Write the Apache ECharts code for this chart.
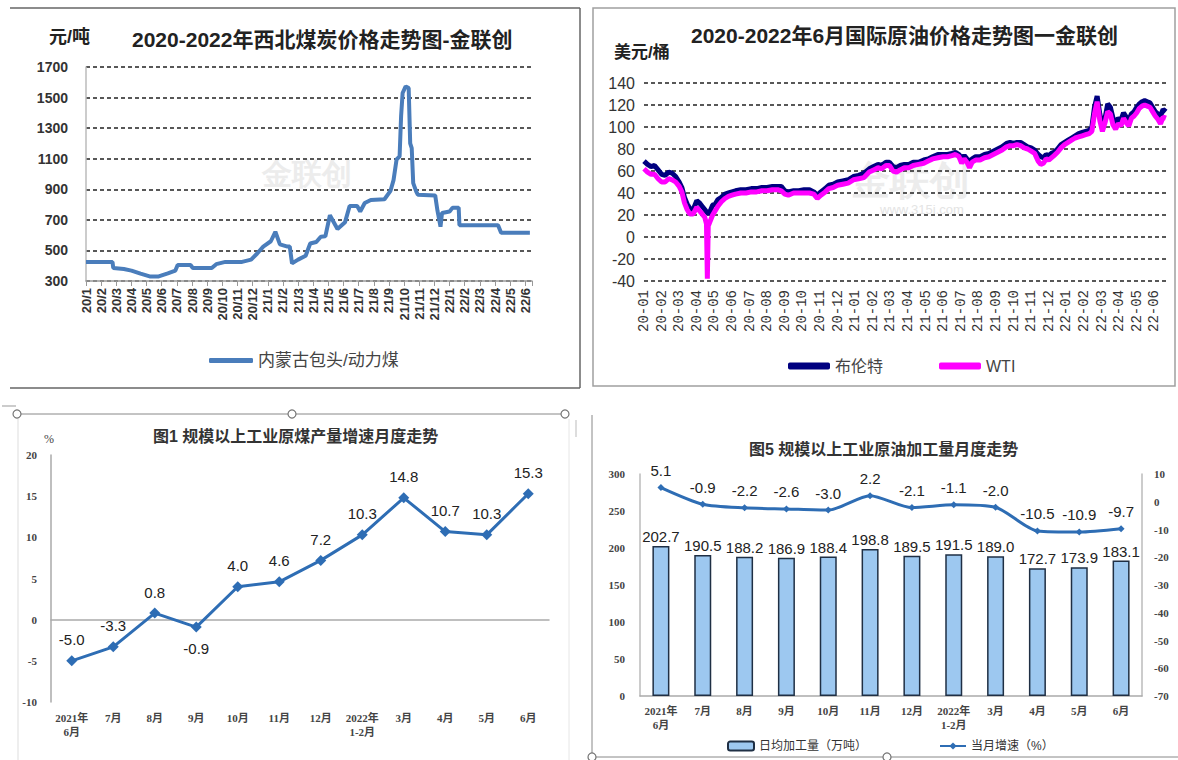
<!DOCTYPE html>
<html>
<head>
<meta charset="utf-8">
<script src="https://cdn.jsdelivr.net/npm/echarts/dist/echarts.min.js"></script>
<style>
  html, body { margin: 0; padding: 0; background: #fff; }
  #main { width: 1178px; height: 760px; }
</style>
</head>
<body>
<div id="main"></div>
<script>
// 西北煤炭价格（元/吨），横轴按月份序号（0 = 20/1）
const coalMonths = ['20/1','20/2','20/3','20/4','20/5','20/6','20/7','20/8','20/9','20/10','20/11','20/12',
  '21/1','21/2','21/3','21/4','21/5','21/6','21/7','21/8','21/9','21/10','21/11','21/12',
  '22/1','22/2','22/3','22/4','22/5','22/6'];
const coalT = [0,1.75,1.8,2.5,3.0,3.6,4.2,4.8,5.4,5.9,6.05,6.9,7.05,8.3,8.6,9.2,10.3,10.9,11.3,11.7,
  12.2,12.5,12.8,13.3,13.45,13.6,14.0,14.5,14.8,15.2,15.5,15.8,16.1,16.6,17.1,17.4,17.9,18.1,18.4,18.8,
  19.7,20.1,20.3,20.5,20.7,20.8,20.9,21.1,21.3,21.4,21.5,21.6,21.8,21.9,23.05,23.2,23.4,23.5,24.0,24.2,
  24.6,24.65,27.2,27.4,29.3];
const coalPrice = [425,425,385,378,368,348,330,330,350,368,405,405,385,385,410,425,425,440,480,525,
  560,622,540,525,525,415,440,465,545,555,590,592,730,640,685,790,790,755,810,830,
  835,890,960,1095,1115,1380,1530,1573,1562,1200,1170,940,885,865,860,760,655,745,755,780,
  780,665,665,615,615];

// 国际原油价格（美元/桶）
const oilMonths = ['20-01','20-02','20-03','20-04','20-05','20-06','20-07','20-08','20-09','20-10','20-11','20-12',
  '21-01','21-02','21-03','21-04','21-05','21-06','21-07','21-08','21-09','21-10','21-11','21-12',
  '22-01','22-02','22-03','22-04','22-05','22-06'];
const oilT = [0.0,0.2,0.4,0.6,0.8,1.0,1.2,1.4,1.6,1.8,
  2.0,2.15,2.3,2.45,2.6,2.8,3.0,3.15,3.3,3.45,
  3.55,3.6,3.65,3.75,3.9,4.05,4.2,4.4,4.6,4.8,
  5.0,5.2,5.5,5.8,6.1,6.4,6.7,7.0,7.3,7.6,
  7.8,8.0,8.2,8.5,8.8,9.1,9.4,9.65,9.85,10.05,
  10.3,10.5,10.75,11.0,11.3,11.6,11.9,12.2,12.5,12.8,
  13.05,13.3,13.5,13.75,13.95,14.15,14.35,14.55,14.8,15.05,
  15.3,15.6,15.9,16.15,16.4,16.7,17.0,17.25,17.5,17.7,
  17.9,18.05,18.2,18.35,18.5,18.65,18.85,19.1,19.35,19.6,
  19.85,20.1,20.35,20.6,20.8,21.0,21.2,21.4,21.6,21.8,
  22.0,22.2,22.4,22.55,22.7,22.85,23.0,23.15,23.3,23.5,
  23.7,23.9,24.1,24.3,24.5,24.7,24.9,25.1,25.3,25.45,
  25.6,25.75,25.9,26.05,26.2,26.35,26.5,26.65,26.8,26.95,
  27.1,27.25,27.4,27.55,27.7,27.85,28.0,28.15,28.3,28.45,
  28.6,28.75,28.9,29.05,29.2,29.35,29.5,29.66];
const brentPrice = [69,66,64,65,61,57,56,59,58,55,
  50,45,36,30,26,25,33,31,28,25,
  23,22,21,23,29,30,34,36,39,40,
  41,42,43,43,44,44,45,45,46,46,
  46,42,41,42,42,43,43,41,38,41,
  44,47,48,50,51,52,55,56,58,62,
  64,66,65,68,68,64,63,65,66,66,
  68,68,70,71,73,75,75,75,76,77,
  75,71,74,71,69,71,73,73,75,76,
  78,80,82,85,86,85,86,86,84,82,
  81,79,75,73,72,75,74,76,77,80,
  84,86,88,90,92,94,95,96,97,100,
  118,128,112,101,108,121,118,108,104,108,
  106,113,109,106,112,114,118,121,123,124,
  123,122,118,114,112,110,116,114];
const wtiPrice = [62,59,57,57,53,50,50,53,52,50,
  46,41,31,25,21,21,27,24,21,18,
  12,-38,10,14,20,24,28,32,35,37,
  38,39,40,40,41,41,42,42,43,43,
  42,39,38,40,40,40,40,39,35,38,
  41,44,45,47,48,49,52,53,54,59,
  61,63,62,65,65,60,59,61,63,63,
  65,66,67,69,71,72,73,73,74,75,
  73,67,71,68,63,68,70,70,72,73,
  75,77,79,82,83,83,84,83,81,80,
  78,76,69,66,67,71,70,72,74,77,
  81,84,86,88,90,91,92,93,94,96,
  112,123,106,96,104,114,112,102,98,103,
  101,108,104,101,108,110,113,117,119,120,
  119,118,114,110,107,103,109,108];

// 规模以上工业：月度
const monthCats = ['2021年\n6月','7月','8月','9月','10月','11月','12月','2022年\n1-2月','3月','4月','5月','6月'];
const coalGrowth = [-5.0,-3.3,0.8,-0.9,4.0,4.6,7.2,10.3,14.8,10.7,10.3,15.3];
const oilRun = [202.7,190.5,188.2,186.9,188.4,198.8,189.5,191.5,189.0,172.7,173.9,183.1];
const oilRunGrowth = [5.1,-0.9,-2.2,-2.6,-3.0,2.2,-2.1,-1.1,-2.0,-10.5,-10.9,-9.7];

const sans = "'Liberation Sans','Noto Sans CJK SC',sans-serif";
const serif = "'Liberation Serif','Noto Sans CJK SC',serif";
const dashed = { lineStyle: { type: [4, 3], color: '#222', width: 1.5 } };
const serifLabel = { fontFamily: serif, fontSize: 11, fontWeight: 'bold', color: '#444', lineHeight: 14 };

const chart = echarts.init(document.getElementById('main'), null, { renderer: 'svg' });
const option = {
  animation: false,
  textStyle: { fontFamily: sans },
  title: [
    { text: '2020-2022年西北煤炭价格走势图-金联创', left: 127, top: 24,
      textStyle: { fontSize: 21, fontWeight: 'bold', color: '#222' } },
    { text: '2020-2022年6月国际原油价格走势图一金联创', left: 686, top: 20,
      textStyle: { fontSize: 21, fontWeight: 'bold', color: '#222' } },
    { text: '图1 规模以上工业原煤产量增速月度走势', left: 148, top: 423,
      textStyle: { fontSize: 16, fontWeight: 'bold', color: '#333' } },
    { text: '图5 规模以上工业原油加工量月度走势', left: 744, top: 436,
      textStyle: { fontSize: 16, fontWeight: 'bold', color: '#333' } }
  ],
  legend: [
    { data: ['内蒙古包头/动力煤'], left: 204, top: 347, icon: 'roundRect', itemWidth: 44, itemHeight: 5,
      textStyle: { fontSize: 17, color: '#444' } },
    { data: ['布伦特', 'WTI'], left: 783, top: 353, icon: 'roundRect', itemWidth: 42, itemHeight: 7, itemGap: 56,
      textStyle: { fontSize: 16, color: '#444' } },
    { data: ['日均加工量（万吨）', '当月增速（%）'], left: 722, top: 735, itemWidth: 26, itemHeight: 9, itemGap: 72,
      textStyle: { fontSize: 12, color: '#333' } }
  ],
  grid: [
    { left: 86, top: 67, width: 446, height: 214 },
    { left: 644, top: 83, width: 523, height: 198 },
    { left: 51, top: 455, width: 498, height: 247 },
    { left: 640, top: 474, width: 502, height: 222 }
  ],
  xAxis: [
    { gridIndex: 0, type: 'value', min: 0, max: 29.44, interval: 1,
      axisLine: { lineStyle: { color: '#999', width: 1.5 } },
      axisTick: { length: 5, lineStyle: { color: '#999' } },
      splitLine: { show: false },
      axisLabel: { rotate: 90, margin: 7, fontSize: 13, fontWeight: 'bold', color: '#333',
        formatter: v => coalMonths[v] || '' } },
    { gridIndex: 1, type: 'value', min: 0, max: 29.72, interval: 1,
      axisLine: { show: false }, axisTick: { show: false }, splitLine: { show: false },
      axisLabel: { rotate: 90, margin: 9, fontSize: 14, fontFamily: 'Liberation Mono', color: '#333',
        formatter: v => oilMonths[v] || '' } },
    { gridIndex: 2, type: 'category', data: monthCats,
      axisLine: { lineStyle: { color: '#aaa', width: 1.5 } },
      axisTick: { inside: true, length: 4, lineStyle: { color: '#aaa' } },
      axisLabel: Object.assign({ margin: 9, interval: 0 }, serifLabel) },
    { gridIndex: 3, type: 'category', data: monthCats,
      axisLine: { lineStyle: { color: '#aaa', width: 1.5 } },
      axisTick: { inside: true, length: 4, lineStyle: { color: '#aaa' } },
      axisLabel: Object.assign({ margin: 8, interval: 0 }, serifLabel) }
  ],
  yAxis: [
    { gridIndex: 0, type: 'value', min: 300, max: 1700, interval: 200,
      axisLine: { show: true, lineStyle: { color: '#bbb', width: 1.5 } }, axisTick: { show: false },
      splitLine: dashed,
      axisLabel: { fontSize: 14, fontWeight: 'bold', color: '#333', margin: 18, formatter: v => String(v) } },
    { gridIndex: 1, type: 'value', min: -40, max: 140, interval: 20,
      axisLine: { show: false }, axisTick: { show: false },
      splitLine: dashed,
      axisLabel: { fontSize: 16, color: '#333', margin: 9, formatter: v => String(v) } },
    { gridIndex: 2, type: 'value', min: -10, max: 20, interval: 5,
      axisLine: { show: true, lineStyle: { color: '#aaa', width: 1.5 } }, axisTick: { show: false },
      splitLine: { show: false },
      axisLabel: Object.assign({ margin: 14 }, serifLabel) },
    { gridIndex: 3, type: 'value', min: 0, max: 300, interval: 50,
      axisLine: { show: true, lineStyle: { color: '#bbb', width: 1.5 } }, axisTick: { show: false },
      splitLine: { show: false },
      axisLabel: Object.assign({ margin: 15 }, serifLabel) },
    { gridIndex: 3, type: 'value', position: 'right', min: -70, max: 10, interval: 10,
      axisLine: { show: true, lineStyle: { color: '#bbb', width: 1.5 } }, axisTick: { show: false },
      splitLine: { show: false },
      axisLabel: Object.assign({ margin: 12 }, serifLabel) }
  ],
  series: [
    { name: '内蒙古包头/动力煤', type: 'line', xAxisIndex: 0, yAxisIndex: 0,
      data: coalT.map((t, i) => [t, coalPrice[i]]), showSymbol: false,
      lineStyle: { width: 4, color: '#4a7dbb' }, itemStyle: { color: '#4a7dbb' } },
    { name: '布伦特', type: 'line', xAxisIndex: 1, yAxisIndex: 1,
      data: oilT.map((t, i) => [t, brentPrice[i]]), showSymbol: false,
      lineStyle: { width: 5, color: '#000080' }, itemStyle: { color: '#000080' } },
    { name: 'WTI', type: 'line', xAxisIndex: 1, yAxisIndex: 1,
      data: oilT.map((t, i) => [t, wtiPrice[i]]), showSymbol: false,
      lineStyle: { width: 5, color: '#ff00ff' }, itemStyle: { color: '#ff00ff' } },
    { name: '原煤产量增速', type: 'line', xAxisIndex: 2, yAxisIndex: 2,
      data: coalGrowth.map((v, i) => i === 3 ? { value: v, label: { position: 'bottom' } } : v),
      symbol: 'diamond', symbolSize: 11,
      lineStyle: { width: 3, color: '#2e6db4' }, itemStyle: { color: '#2e6db4' },
      label: { show: true, position: 'top', distance: 8, fontSize: 15, color: '#222',
        formatter: p => p.value.toFixed(1) } },
    { name: '日均加工量（万吨）', type: 'bar', xAxisIndex: 3, yAxisIndex: 3,
      data: oilRun, barWidth: 17,
      itemStyle: { color: '#9dc8f0', borderColor: '#1f2f44', borderWidth: 1.5 },
      label: { show: true, position: 'top', distance: 2, fontSize: 15, color: '#222',
        formatter: p => p.value.toFixed(1) } },
    { name: '当月增速（%）', type: 'line', xAxisIndex: 3, yAxisIndex: 4,
      data: oilRunGrowth, smooth: 0.25,
      symbol: 'diamond', symbolSize: 7,
      lineStyle: { width: 3, color: '#2e6db4' }, itemStyle: { color: '#2e6db4' },
      label: { show: true, position: 'top', distance: 6, fontSize: 15, color: '#222',
        formatter: p => p.value.toFixed(1) } }
  ],
  graphic: [
    // 水印
    { type: 'text', z: 0, left: 262, top: 158, style: { text: '金联创', font: 'bold 30px sans-serif', fill: '#ececec' } },
    { type: 'text', z: 0, left: 850, top: 160, style: { text: '金联创', font: 'bold 40px sans-serif', fill: '#ececec' } },
    { type: 'text', z: 0, left: 880, top: 203, style: { text: 'www.315i.com', font: '13px sans-serif', fill: '#e4e4e4' } },
    // 单位
    { type: 'text', left: 49, top: 28, style: { text: '元/吨', font: 'bold 18px ' + sans, fill: '#222' } },
    { type: 'text', left: 614, top: 44, style: { text: '美元/桶', font: 'bold 17px ' + sans, fill: '#222' } },
    { type: 'text', left: 44, top: 433, style: { text: '%', font: '12px ' + serif, fill: '#444' } },
    // 边框
    { type: 'line', shape: { x1: 10, y1: 8, x2: 580, y2: 8 }, style: { stroke: '#666', lineWidth: 1.5 } },
    { type: 'line', shape: { x1: 580, y1: 8, x2: 580, y2: 388 }, style: { stroke: '#666', lineWidth: 1.5 } },
    { type: 'line', shape: { x1: 10, y1: 388, x2: 580, y2: 388 }, style: { stroke: '#666', lineWidth: 1.5 } },
    { type: 'rect', shape: { x: 593, y: 8, width: 582, height: 378 }, style: { fill: 'none', stroke: '#a0a0a0', lineWidth: 1.5 } },
    { type: 'line', shape: { x1: 2, y1: 406, x2: 16, y2: 406 }, style: { stroke: '#999', lineWidth: 1 } },
    { type: 'line', shape: { x1: 17, y1: 414, x2: 565, y2: 414 }, style: { stroke: '#888', lineWidth: 1 } },
    { type: 'line', shape: { x1: 18, y1: 419, x2: 18, y2: 760 }, style: { stroke: '#ddd', lineWidth: 1 } },
    { type: 'line', shape: { x1: 569, y1: 419, x2: 569, y2: 760 }, style: { stroke: '#e6e6e6', lineWidth: 1 } },
    { type: 'line', shape: { x1: 576, y1: 420, x2: 576, y2: 437 }, style: { stroke: '#bbb', lineWidth: 1 } },
    { type: 'circle', shape: { cx: 17, cy: 414, r: 4 }, style: { fill: '#fff', stroke: '#777', lineWidth: 1.2 } },
    { type: 'circle', shape: { cx: 292, cy: 414, r: 4 }, style: { fill: '#fff', stroke: '#777', lineWidth: 1.2 } },
    { type: 'circle', shape: { cx: 565, cy: 414, r: 4 }, style: { fill: '#fff', stroke: '#777', lineWidth: 1.2 } },
    { type: 'line', shape: { x1: 592, y1: 415, x2: 592, y2: 757 }, style: { stroke: '#888', lineWidth: 1 } },
    { type: 'line', shape: { x1: 592, y1: 757, x2: 1178, y2: 757 }, style: { stroke: '#888', lineWidth: 1 } },
    { type: 'circle', shape: { cx: 592, cy: 757, r: 4 }, style: { fill: '#fff', stroke: '#777', lineWidth: 1.2 } },
    { type: 'circle', shape: { cx: 887, cy: 757, r: 4 }, style: { fill: '#fff', stroke: '#777', lineWidth: 1.2 } }
  ]
};
chart.setOption(option);
</script>
</body>
</html>
